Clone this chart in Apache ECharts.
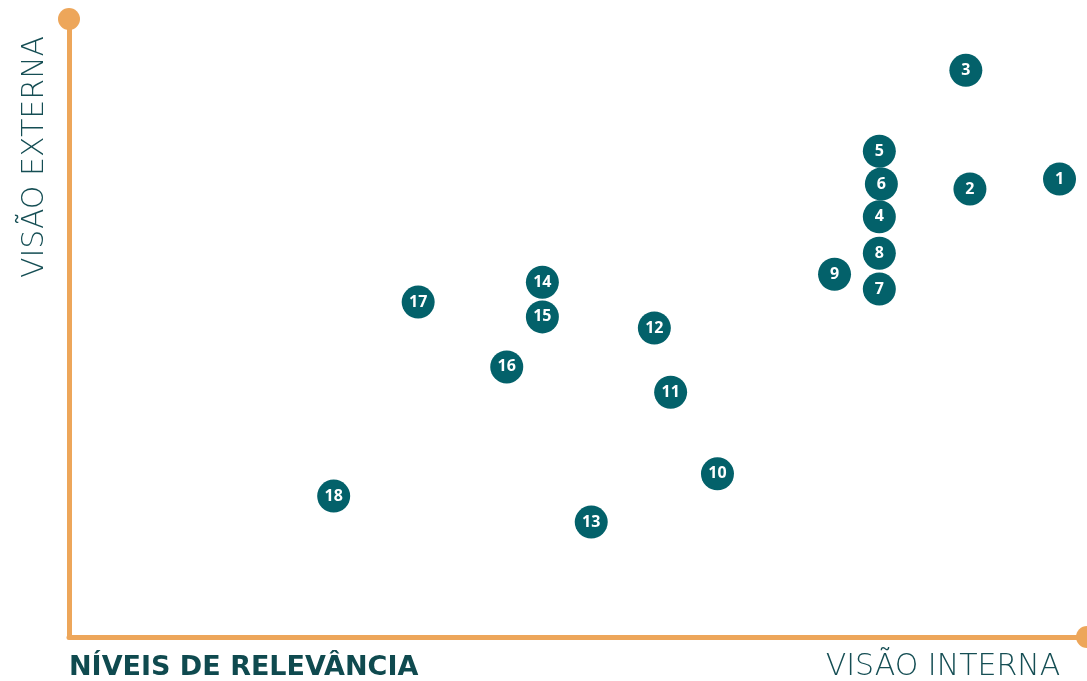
<!DOCTYPE html>
<html><head><meta charset="utf-8">
<script src="https://cdn.jsdelivr.net/npm/echarts@6/dist/echarts.min.js"></script>
<style>html,body{margin:0;padding:0;background:#fff}#c{width:1087px;height:681px}</style>
</head><body><div id="c"></div>
<script>
const ids = ['1','2','3','4','5','6','7','8','9','10','11','12','13','14','15','16','17','18'];
const visaoInterna = [97.3,88.5,88.1,79.6,79.6,79.8,79.6,79.6,75.2,63.7,59.1,57.5,51.3,46.5,46.5,43.0,34.3,26.0];
const visaoExterna = [74.1,72.5,91.7,68.0,78.6,73.3,56.3,62.1,58.7,26.4,39.6,50.0,18.6,57.4,51.8,43.7,54.2,22.8];
const xTitle = 'VISÃO INTERNA';
const yTitle = 'VISÃO EXTERNA';
const mainTitle = 'NÍVEIS DE RELEVÂNCIA';

const chart = echarts.init(document.getElementById('c'));
const data = ids.map((id,i)=>[visaoInterna[i], visaoExterna[i], id]);
const axisColor = '#EDA65A';
const textColor = '#154E54';
chart.setOption({
  animation:false,
  grid:{left:69,top:19,right:0,bottom:44,containLabel:false},
  xAxis:{type:'value',min:0,max:100,
    axisLine:{show:true,lineStyle:{color:axisColor,width:5},symbol:['none','circle'],symbolSize:[22,22]},
    axisTick:{show:false},axisLabel:{show:false},splitLine:{show:false}},
  yAxis:{type:'value',min:0,max:100,
    axisLine:{show:true,lineStyle:{color:axisColor,width:5},symbol:['none','circle'],symbolSize:[22,22]},
    axisTick:{show:false},axisLabel:{show:false},splitLine:{show:false}},
  series:[{type:'scatter',data:data,symbolSize:33,
    itemStyle:{color:'#03616A',opacity:1},
    label:{show:true,position:'inside',formatter:p=>p.data[2],color:'#fff',fontFamily:'Open Sans',fontWeight:'bold',fontSize:16}
  }],
  graphic:[
    {type:'text',x:35,y:157,rotation:Math.PI/2,style:{text:yTitle,fill:textColor,font:'200 30px "DejaVu Sans"',textAlign:'center',textVerticalAlign:'middle'}},
    {type:'text',x:943,y:667,style:{text:xTitle,fill:textColor,font:'200 30px "DejaVu Sans"',textAlign:'center',textVerticalAlign:'middle'}},
    {type:'text',x:69,y:668,style:{text:mainTitle,fill:'#0F4A4F',font:'bold 27px "DejaVu Sans"',textAlign:'left',textVerticalAlign:'middle'}}
  ]
});
</script></body></html>
